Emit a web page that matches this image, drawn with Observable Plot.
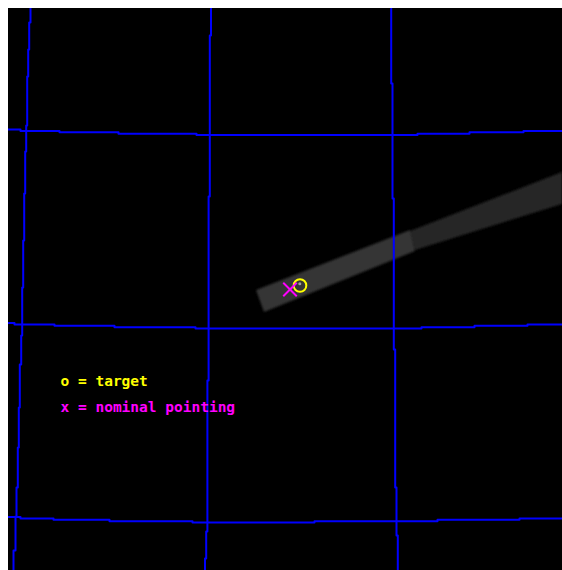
<!DOCTYPE html>
<html>
<head>
<meta charset="utf-8">
<script src="https://cdn.jsdelivr.net/npm/d3@7"></script>
<script src="https://cdn.jsdelivr.net/npm/@observablehq/plot@0.6"></script>
<style>
  html, body { margin: 0; padding: 0; background: #fff; overflow: hidden; }
  #chart { position: absolute; left: 8px; top: 8px; }
  #chart svg { display: block; max-width: none; }
</style>
</head>
<body>
<div id="chart"></div>
<script>
// Image pixel coordinates (0,0 = top-left of the image)
// Horizontal grid lines: x breakpoints and the y of each step
const hLineX = [
  [0, 12, 51, 110, 188, 409, 461, 515, 554],
  [0, 6, 46, 106, 187, 413, 466, 519, 554],
  [0, 12, 45, 101, 184, 306, 429, 511, 554]
];
const hLineY = [
  [121, 122.4, 123.8, 125.2, 126.6, 125.2, 123.8, 122.4],
  [314.5, 315.9, 317.3, 318.7, 320.1, 318.7, 317.3, 315.9],
  [508.5, 509.9, 511.3, 512.7, 514.1, 512.7, 511.3, 509.9]
];
// Vertical grid lines: y breakpoints and the x of each step
const vLineY = [
  [0, 14, 41, 68, 117, 143, 185, 232, 279, 327, 356, 399, 439, 479, 508, 542, 562],
  [0, 27, 188, 372, 523, 550, 562],
  [0, 75, 190, 341, 479, 527, 562]
];
const vLineX = [
  [22, 20.7, 19.7, 18.7, 17.7, 16.7, 15.7, 14.7, 13.7, 12.7, 11.3, 10.3, 9.3, 8, 7, 5],
  [202.5, 201.3, 200.1, 198.9, 197.7, 196.5],
  [382.7, 384, 385.3, 386.7, 388, 389.3]
];
// Streak: two segments, each with left and right ends (upper edge x1,y1; lower edge x2,y2)
const streakSegment = ["bright", "bright", "dim", "dim"];
const streakX1 = [248, 402, 402, 554];
const streakY1 = [282, 222, 223, 164];
const streakX2 = [256, 407, 407, 554];
const streakY2 = [304, 243, 242, 196];
const streakColor = {bright: "#343434", dim: "#272727"};
// Markers
const starPos = [291.3, 275.3];
const targetPos = [291.5, 277];
const nominalPos = [281.5, 281];
// Legend
const legendLabels = ["o = target", "x = nominal pointing"];
const legendColors = ["#ffff00", "#ff00ff"];
const legendX = [52, 52];
const legendY = [377, 403.5];

const W = 554, H = 562;

const gridRows = [];
hLineX.forEach((xs, i) => {
  const ys = hLineY[i];
  ys.forEach((y, j) => gridRows.push({line: "h" + i, x: xs[j], y}));
  gridRows.push({line: "h" + i, x: xs[xs.length - 1], y: ys[ys.length - 1]});
});
const vRows = [];
vLineY.forEach((ys, i) => {
  const xs = vLineX[i];
  xs.forEach((x, j) => vRows.push({line: "v" + i, x, y: ys[j]}));
  vRows.push({line: "v" + i, x: xs[xs.length - 1], y: ys[ys.length - 1]});
});
const streak = streakSegment.map((s, i) => ({
  seg: s, x1: streakX1[i], y1: streakY1[i], x2: streakX2[i], y2: streakY2[i]
}));
const legend = legendLabels.map((t, i) => ({t, c: legendColors[i], x: legendX[i], y: legendY[i]}));

const plot = Plot.plot({
  width: W,
  height: H,
  margin: 0,
  style: {background: "#000", overflow: "hidden"},
  x: {domain: [0, W], range: [0, W], axis: null},
  y: {domain: [0, H], range: [0, H], axis: null},
  marks: [
    Plot.area(streak, {
      x1: "x1", y1: "y1", x2: "x2", y2: "y2", z: "seg",
      fill: (d) => streakColor[d.seg], clip: true
    }),
    Plot.dot([starPos], {x: (d) => d[0], y: (d) => d[1], r: 1.5, fill: "#a0a0a0", stroke: "none"}),
    Plot.line(gridRows, {x: "x", y: "y", z: "line", curve: "step-after", stroke: "#0000ff", strokeWidth: 2}),
    Plot.line(vRows, {x: "x", y: "y", z: "line", curve: "step-before", stroke: "#0000ff", strokeWidth: 2}),
    Plot.dot([targetPos], {x: (d) => d[0], y: (d) => d[1], r: 6.3, stroke: "#ffff00", strokeWidth: 2, fill: "none"}),
    Plot.dot([nominalPos], {x: (d) => d[0], y: (d) => d[1], r: 6.2, symbol: "times", stroke: "#ff00ff", strokeWidth: 2}),
    Plot.text(legend, {
      x: "x", y: "y", text: "t", fill: "c", textAnchor: "start", lineAnchor: "bottom",
      fontFamily: "DejaVu Sans Mono", fontSize: 14.5, fontWeight: "bold"
    })
  ]
});
document.getElementById("chart").appendChild(plot);
// soften the streak edges slightly
const defs = d3.select(plot).insert("defs", ":first-child");
defs.append("filter").attr("id", "soft").append("feGaussianBlur").attr("stdDeviation", 0.8);
d3.select(plot).selectAll("g[aria-label='area']").attr("filter", "url(#soft)");
</script>
</body>
</html>
